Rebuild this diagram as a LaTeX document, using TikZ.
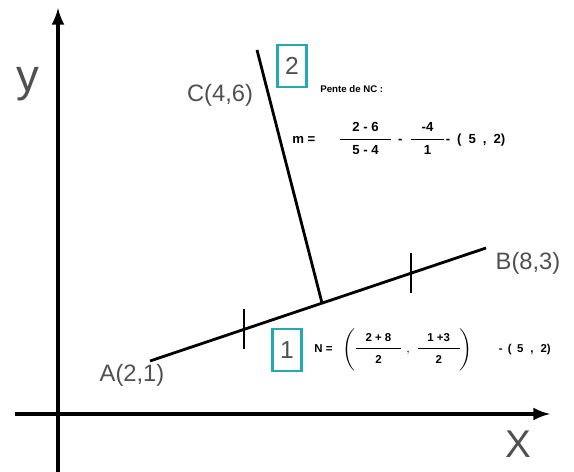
\documentclass[tikz,border=0pt]{standalone}
\usepackage{fontspec}
\setmainfont{Liberation Sans}
\usetikzlibrary{calc}
\definecolor{boxteal}{RGB}{38,168,178}
\definecolor{labelgray}{RGB}{80,80,80}
% fraction with a bar a bit wider than its terms
\newcommand{\fr}[3][6pt]{\begin{tabular}{@{\hspace{#1}}c@{\hspace{#1}}}#2\\[2pt]\hline\rule{0pt}{8.5pt}#3\end{tabular}}

\begin{document}
\begin{tikzpicture}[x=0.02cm, y=-0.02cm, >=latex,
    axis/.style={line width=2.2pt,->},
    seg/.style={line width=1.6pt},
    ptlabel/.style={text=labelgray, font=\fontsize{13.5}{14}\selectfont},
    numbox/.style={draw=boxteal, line width=1.6pt, inner sep=0pt,
        minimum width=0.58cm, minimum height=0.84cm,
        font=\fontsize{14}{14}\selectfont, text=labelgray},
    formula/.style={font=\fontsize{7.5}{8}\bfseries\selectfont, inner sep=0pt}]
    \useasboundingbox (0,0) rectangle (574,472);

    % axes
    \coordinate (ybot) at (58,472);
    \coordinate (ytop) at (58,8);
    \coordinate (xleft) at (15,414);
    \coordinate (xright) at (550,414);
    \draw[axis] (ybot) -- (ytop);
    \draw[axis] (xleft) -- (xright);
    \node[text=labelgray, font=\fontsize{26}{26}\selectfont] (ylab) at (28,84) {y};
    \node[text=labelgray, font=\fontsize{22}{22}\selectfont] (xlab) at (518,444) {X};

    % points
    \coordinate (A) at (150,361);
    \coordinate (B) at (486,248);
    \coordinate (C) at (257,50);
    \coordinate (N) at ($(A)!0.512!(B)$);
    \coordinate (t1) at ($(A)!0.28!(B)$);
    \coordinate (t2) at ($(A)!0.777!(B)$);

    \draw[seg] (A) -- (B);
    \draw[seg] (C) -- (N);
    \draw[seg] ([yshift=-0.4cm]t1) -- ([yshift=0.4cm]t1);
    \draw[seg] ([yshift=-0.4cm]t2) -- ([yshift=0.4cm]t2);

    \node[ptlabel] (Alab) at (132,375) {A(2,1)};
    \node[ptlabel] (Blab) at (528,263) {B(8,3)};
    \node[ptlabel] (Clab) at (220,95) {C(4,6)};

    % step 2: slope of NC
    \node[numbox] (box2) at (292,66) {2};
    \node[formula, font=\fontsize{5.5}{6}\bfseries\selectfont, anchor=west] (pente) at (320,89) {Pente de NC :};
    \node[formula, anchor=west] (slope) at (292,140)
        {m =\hspace{14pt}\fr[7pt]{2 - 6}{5 - 4}\hspace{4pt}-\hspace{5pt}\fr[6pt]{-4}{1}\hspace{1pt}-\hspace{4pt}(\hspace{4pt}5\hspace{4pt},\hspace{4pt}2)};

    % step 1: midpoint N
    \node[numbox] (box1) at (287,350) {1};
    \node[formula, font=\fontsize{6.5}{7}\bfseries\selectfont, anchor=west] (mid) at (314,350)
        {N =\hspace{6pt}$\left(\fr[5.5pt]{2 + 8}{2}\hspace{3pt},\hspace{3pt}\fr[5.5pt]{1 +3}{2}\right)$\hspace{15pt}-\hspace{3pt}(\hspace{3pt}5\hspace{4pt},\hspace{4pt}2)};
\end{tikzpicture}
\end{document}
